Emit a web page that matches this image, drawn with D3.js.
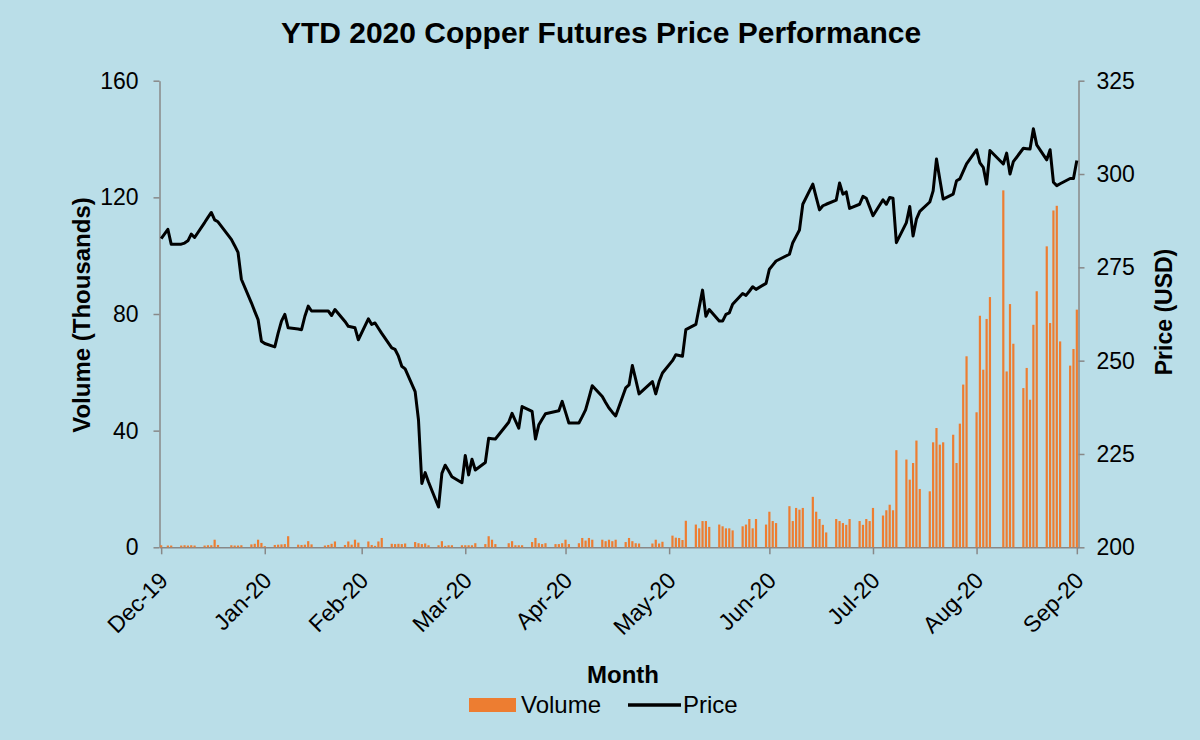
<!DOCTYPE html>
<html>
<head>
<meta charset="utf-8">
<script src="https://cdn.jsdelivr.net/npm/d3@7"></script>
<style>
    body { margin: 0; background: #badee8; }
    svg { display: block; }
    text { font-family: "Liberation Sans", Arial, sans-serif; fill: #000; }
    .axis path, .axis line { stroke: #888; stroke-width: 1.5; }
    .axis text { font-size: 23px; }
</style>
</head>
<body>
<svg class="chart" width="1200" height="740"></svg>
<script>
// trading days, Dec-31-2019 .. Sep-30-2020
var dates = [
    "2019-12-31",
    "2020-01-02","2020-01-03","2020-01-06","2020-01-07","2020-01-08","2020-01-09","2020-01-10","2020-01-13","2020-01-14","2020-01-15","2020-01-16","2020-01-17","2020-01-21","2020-01-22","2020-01-23","2020-01-24","2020-01-27","2020-01-28","2020-01-29","2020-01-30","2020-01-31",
    "2020-02-03","2020-02-04","2020-02-05","2020-02-06","2020-02-07","2020-02-10","2020-02-11","2020-02-12","2020-02-13","2020-02-14","2020-02-18","2020-02-19","2020-02-20","2020-02-21","2020-02-24","2020-02-25","2020-02-26","2020-02-27","2020-02-28",
    "2020-03-02","2020-03-03","2020-03-04","2020-03-05","2020-03-06","2020-03-09","2020-03-10","2020-03-11","2020-03-12","2020-03-13","2020-03-16","2020-03-17","2020-03-18","2020-03-19","2020-03-20","2020-03-23","2020-03-24","2020-03-25","2020-03-26","2020-03-27","2020-03-30","2020-03-31",
    "2020-04-01","2020-04-02","2020-04-03","2020-04-06","2020-04-07","2020-04-08","2020-04-09","2020-04-13","2020-04-14","2020-04-15","2020-04-16","2020-04-17","2020-04-20","2020-04-21","2020-04-22","2020-04-23","2020-04-24","2020-04-27","2020-04-28","2020-04-29","2020-04-30",
    "2020-05-01","2020-05-04","2020-05-05","2020-05-06","2020-05-07","2020-05-08","2020-05-11","2020-05-12","2020-05-13","2020-05-14","2020-05-15","2020-05-18","2020-05-19","2020-05-20","2020-05-21","2020-05-22","2020-05-26","2020-05-27","2020-05-28","2020-05-29",
    "2020-06-01","2020-06-02","2020-06-03","2020-06-04","2020-06-05","2020-06-08","2020-06-09","2020-06-10","2020-06-11","2020-06-12","2020-06-15","2020-06-16","2020-06-17","2020-06-18","2020-06-19","2020-06-22","2020-06-23","2020-06-24","2020-06-25","2020-06-26","2020-06-29","2020-06-30",
    "2020-07-01","2020-07-02","2020-07-06","2020-07-07","2020-07-08","2020-07-09","2020-07-10","2020-07-13","2020-07-14","2020-07-15","2020-07-16","2020-07-17","2020-07-20","2020-07-21","2020-07-22","2020-07-23","2020-07-24","2020-07-27","2020-07-28","2020-07-29","2020-07-30","2020-07-31",
    "2020-08-03","2020-08-04","2020-08-05","2020-08-06","2020-08-07","2020-08-10","2020-08-11","2020-08-12","2020-08-13","2020-08-14","2020-08-17","2020-08-18","2020-08-19","2020-08-20","2020-08-21","2020-08-24","2020-08-25","2020-08-26","2020-08-27","2020-08-28","2020-08-31",
    "2020-09-01","2020-09-02","2020-09-03","2020-09-04","2020-09-08","2020-09-09","2020-09-10","2020-09-11","2020-09-14","2020-09-15","2020-09-16","2020-09-17","2020-09-18","2020-09-21","2020-09-22","2020-09-23","2020-09-24","2020-09-25","2020-09-28","2020-09-29","2020-09-30"
];

// price, USD cents per lb
var price = [
    282.7,
    285.2,281.2,281.2,281.5,282.1,283.9,283.0,287.0,288.4,289.7,287.7,287.2,282.5,280.8,279.0,271.8,265.5,263.2,261.0,255.2,254.6,
    253.7,257.4,260.6,262.4,258.8,258.5,258.3,261.9,264.6,263.3,263.3,263.3,262.1,263.7,260.5,259.2,259.0,258.8,255.6,
    261.2,259.7,260.1,258.7,257.3,253.4,253.0,251.2,248.5,247.8,241.7,234.1,217.1,220.0,217.5,210.8,219.8,222.0,220.5,218.9,217.3,224.6,
    219.4,223.6,220.7,222.7,229.2,229.1,229.0,233.5,235.9,233.9,231.9,237.7,236.4,229.0,232.8,234.3,235.8,236.4,236.6,239.1,236.2,
    233.3,233.3,235.0,236.8,240.0,243.3,240.4,238.8,237.3,236.2,235.2,242.7,243.5,248.7,245.0,241.1,244.4,241.1,244.4,246.7,
    250.0,251.6,251.4,251.2,258.3,259.7,264.3,268.9,261.9,263.7,260.6,260.6,262.4,262.8,265.1,268.0,267.5,268.6,269.8,269.1,270.7,274.5,
    275.6,276.7,278.5,281.6,283.3,285.0,291.9,297.3,293.8,290.4,291.5,291.9,293.0,297.6,294.6,295.2,290.8,291.9,294.0,293.5,291.2,288.8,
    293.1,291.9,293.7,293.5,281.6,287.0,291.3,283.4,287.9,290.0,292.5,295.5,304.0,298.6,293.3,294.6,298.2,298.7,300.7,302.7,306.5,
    303.0,301.8,297.3,306.3,302.7,305.6,300.0,303.3,306.9,306.8,306.7,312.1,307.8,303.8,306.5,297.8,296.9,297.4,298.8,298.8,303.6
];

// volume, thousands of contracts
var volume = [
    0.7,
    0.6,0.6,0.6,0.7,0.6,0.7,0.6,0.6,0.7,0.7,2.6,0.8,0.7,0.6,0.6,0.7,1.0,1.2,2.6,1.5,0.4,
    0.8,0.9,1.0,1.1,3.8,0.9,0.8,0.9,2.1,1.0,0.6,0.8,1.2,2.0,0.8,2.0,0.9,2.6,1.6,
    2.0,0.8,0.5,2.0,3.2,1.2,1.1,1.2,1.1,1.3,1.8,1.4,1.1,1.3,0.7,0.7,2.1,0.5,0.7,0.7,0.7,0.7,
    0.7,0.7,1.4,1.1,3.8,2.6,1.1,1.4,2.1,0.7,0.7,0.7,1.8,3.2,1.4,1.1,1.4,1.1,1.1,1.4,2.6,
    1.1,1.4,3.2,2.3,3.2,2.6,2.6,2.1,2.6,2.1,2.6,1.8,3.2,2.1,1.4,1.3,1.3,2.6,1.3,1.9,
    4.0,3.3,3.2,2.5,9.1,7.8,6.5,9.0,9.0,7.0,7.8,7.2,6.5,6.5,5.8,7.2,7.8,9.7,6.5,9.7,7.8,12.2,
    9.0,8.3,14.1,9.0,13.5,12.9,13.5,17.3,12.2,9.7,7.7,5.1,9.7,9.0,8.3,7.7,9.7,9.0,7.7,9.7,9.0,13.5,
    10.9,12.7,14.6,12.7,33.3,30.1,23.2,28.9,36.6,20.0,19.2,36.0,40.9,35.2,36.0,38.6,28.9,42.4,55.8,65.5,46.3,
    79.4,60.9,78.3,85.8,122.4,60.3,83.4,69.8,54.6,61.5,50.6,76.3,87.8,103.2,76.9,115.5,117.1,70.6,62.3,68.0,81.5
];

var monthTicks = ["2019-12-31","2020-01-31","2020-02-29","2020-03-31","2020-04-30","2020-05-31","2020-06-30","2020-07-31","2020-08-31","2020-09-30"];
var volumeTicks = [0, 40, 80, 120, 160];
var priceTicks = [200, 225, 250, 275, 300, 325];

var chart = (function() {

    var svg = d3.select("svg.chart");
    var parse = d3.timeParse("%Y-%m-%d");
    var fmt = d3.timeFormat("%b-%y");

    var plotLeft = 159.5,
        plotRight = 1078.5,
        plotTop = 80.7,
        plotBottom = 547.3;

    var rows = dates.map(function(d, i) {
        return { date: parse(d), price: price[i], volume: volume[i] };
    });

    var x = d3.scaleTime()
        .domain([d3.timeHour.offset(rows[0].date, -12), d3.timeHour.offset(rows[rows.length - 1].date, 12)])
        .range([plotLeft, plotRight]);
    var yVol = d3.scaleLinear().domain([0, 160]).range([plotBottom, plotTop]);
    var yPrice = d3.scaleLinear().domain([200, 325]).range([plotBottom, plotTop]);

    function drawAxes() {
        svg.append("g")
            .attr("class", "axis")
            .attr("transform", "translate(" + plotLeft + ",0)")
            .call(d3.axisLeft(yVol).tickValues(volumeTicks).tickSize(6).tickSizeOuter(0).tickPadding(15));

        svg.append("g")
            .attr("class", "axis")
            .attr("transform", "translate(" + plotRight + ",0)")
            .call(d3.axisRight(yPrice).tickValues(priceTicks).tickSize(6).tickSizeOuter(0).tickPadding(12));

        var xAxis = svg.append("g")
            .attr("class", "axis")
            .attr("transform", "translate(0," + plotBottom + ")")
            .call(d3.axisBottom(x).tickValues(monthTicks.map(parse)).tickFormat(fmt).tickSize(7).tickSizeOuter(0));

        xAxis.selectAll(".tick text")
            .attr("y", 0)
            .attr("dy", "0.35em")
            .attr("text-anchor", "end")
            .attr("transform", "translate(2,29) rotate(-45)");
    }

    function drawData() {
        svg.selectAll(".bar")
            .data(rows)
            .enter()
                .append("rect")
                .attr("class", "bar")
                .attr("x", function(d) { return x(d.date) - 1.1; })
                .attr("width", 2.2)
                .attr("y", function(d) { return yVol(d.volume); })
                .attr("height", function(d) { return yVol(0) - yVol(d.volume); })
                .attr("fill", "#ed7d31");

        var line = d3.line()
            .x(function(d) { return x(d.date); })
            .y(function(d) { return yPrice(d.price); });

        svg.append("path")
            .datum(rows)
            .attr("d", line)
            .attr("fill", "none")
            .attr("stroke", "#000")
            .attr("stroke-width", 3)
            .attr("stroke-linejoin", "round");
    }

    function drawLabels() {
        svg.append("text")
            .text("YTD 2020 Copper Futures Price Performance")
            .attr("x", 601).attr("y", 43)
            .attr("text-anchor", "middle")
            .attr("font-size", "30px")
            .attr("font-weight", "bold");

        svg.append("text")
            .text("Volume (Thousands)")
            .attr("transform", "translate(90,315) rotate(-90)")
            .attr("text-anchor", "middle")
            .attr("font-size", "24px")
            .attr("font-weight", "bold");

        svg.append("text")
            .text("Price (USD)")
            .attr("transform", "translate(1172,312) rotate(-90)")
            .attr("text-anchor", "middle")
            .attr("font-size", "23px")
            .attr("font-weight", "bold");

        svg.append("text")
            .text("Month")
            .attr("x", 623).attr("y", 683)
            .attr("text-anchor", "middle")
            .attr("font-size", "24px")
            .attr("font-weight", "bold");

        var legend = svg.append("g").attr("font-size", "24px");
        legend.append("rect")
            .attr("x", 469).attr("y", 698)
            .attr("width", 47).attr("height", 14)
            .attr("fill", "#ed7d31");
        legend.append("text").text("Volume").attr("x", 521).attr("y", 713);
        legend.append("line")
            .attr("x1", 628).attr("x2", 681)
            .attr("y1", 705).attr("y2", 705)
            .attr("stroke", "#000").attr("stroke-width", 3.5);
        legend.append("text").text("Price").attr("x", 683).attr("y", 713);
    }

    return {
        draw: function() {
            svg.append("rect")
                .attr("width", 1200).attr("height", 740)
                .attr("fill", "#badee8");
            drawAxes();
            drawData();
            drawLabels();
        }
    };
})();

chart.draw();
</script>
</body>
</html>
